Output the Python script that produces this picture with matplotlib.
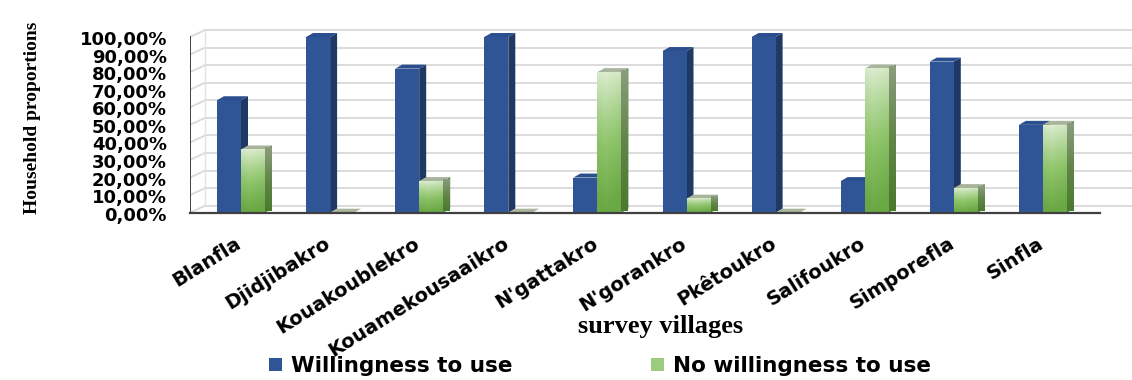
import numpy as np
import matplotlib
matplotlib.use("Agg")
import matplotlib.pyplot as plt
from matplotlib.patches import Polygon, Patch
from matplotlib.colors import LinearSegmentedColormap

villages = ["Blanfla", "Djidjibakro", "Kouakoublekro", "Kouamekousaaikro",
            "N'gattakro", "N'gorankro", "Pkêtoukro", "Salifoukro",
            "Simporefla", "Sinfla"]
willing = [64, 100, 82, 100, 20, 92, 100, 18, 86, 50]
not_willing = [36, 0, 18, 0, 80, 8, 0, 82, 14, 50]
ytick_vals = list(range(0, 101, 10))
ytick_labels = ["%d,00%%" % v for v in ytick_vals]

W, H = 1132, 380
fig = plt.figure(figsize=(W / 100, H / 100), dpi=100)

# axes box in pixels, and the pixel size of one unit along each axis
ax_l, ax_r, ax_t, ax_b = 190, 1132, 22, 212.7
px_x, px_y = 89.1, 1.757
ax = fig.add_axes([ax_l / W, (H - ax_b) / H, (ax_r - ax_l) / W, (ax_b - ax_t) / H])
xmin = (ax_l - 241) / px_x
xmax = xmin + (ax_r - ax_l) / px_x
ymax = (ax_b - ax_t) / px_y
ax.axis("off")

# depth of the bars and of the walls (pixels -> data)
bdx, bdy = 7 / px_x, 4 / px_y
wdx, wdy = 15 / px_x, 7 / px_y
bw = 24 / px_x

# walls: gridlines on the back, slanted lines on the left wall
floor_end = 9 + (1100 - 1043) / px_x
for v in ytick_vals:
    ax.plot([xmin + wdx, xmax], [v + wdy, v + wdy], color="#d9d9d9", lw=1.3, zorder=1)
    ax.plot([xmin, xmin + wdx], [v, v + wdy], color="#d9d9d9", lw=1.3, zorder=1)
ax.plot([xmin + wdx, xmin + wdx], [wdy, 100 + wdy], color="#e3e3e3", lw=1, zorder=1)
ax.plot([xmin, floor_end], [0, 0], color="#404040", lw=1.6, zorder=6, clip_on=False)
ax.plot([xmin, xmin], [0, 100], color="#404040", lw=1.4, zorder=6)

green_cmap = LinearSegmentedColormap.from_list("g", ["#f2f8ee", "#c4e0b0", "#8ec46a", "#6aa844"])
side_cmap = LinearSegmentedColormap.from_list("gs", ["#8a9c7c", "#62854a", "#4a7a2c"])


def bar3d(x0, h, front, side, top):
    x1 = x0 + bw
    ax.add_patch(Polygon([(x1, 0), (x1 + bdx, bdy), (x1 + bdx, h + bdy), (x1, h)],
                         closed=True, fc=side, ec="none", zorder=3))
    ax.add_patch(Polygon([(x0, h), (x0 + bdx, h + bdy), (x1 + bdx, h + bdy), (x1, h)],
                         closed=True, fc=top, ec="none", zorder=3))
    if front is not None and h > 0:
        ax.add_patch(Polygon([(x0, 0), (x1, 0), (x1, h), (x0, h)],
                             closed=True, fc=front, ec="none", zorder=4))


for i in range(len(villages)):
    # blue bar
    bar3d(i - bw, willing[i], "#2f5597", "#1f3864", "#2b4f8e")
    # green bar with a shaded front face
    h = not_willing[i]
    x0 = i
    bar3d(x0, h, None, "#587c3e", "#a8b59c")
    if h > 0:
        yy = np.linspace(0, 1, 60)[:, None]
        xx = np.linspace(0, 1, 20)[None, :]
        grad = 0.15 + 0.85 * yy ** 0.8 + 0.12 * np.abs(xx - 0.35)
        ax.imshow(grad, cmap=green_cmap, vmin=0, vmax=1, origin="upper",
                  extent=[x0, x0 + bw, 0, h], aspect="auto", zorder=4,
                  interpolation="bilinear")
        sgrad = np.linspace(0, 1, 60)[:, None] * np.ones((1, 4))
        ax.imshow(sgrad, cmap=side_cmap, origin="upper",
                  extent=[x0 + bw, x0 + bw + bdx, bdy * 0.5, h + bdy * 0.5],
                  aspect="auto", zorder=3.5, interpolation="bilinear")
ax.set_xlim(xmin, xmax)
ax.set_ylim(0, ymax)

# axis texts
tick_font = dict(family="DejaVu Sans", weight="bold")
for v, lab in zip(ytick_vals, ytick_labels):
    fig.text(167 / W, (H - (ax_b - v * px_y + 3)) / H, lab, ha="right", va="center",
             size=13, **tick_font)
for i, name in enumerate(villages):
    ax.text(i - 0.07, -12, name, rotation=32, ha="right", va="top",
            rotation_mode="anchor", size=14, clip_on=False, **tick_font)

fig.text(33 / W, (H - 118) / H, "Household proportions", rotation=90,
         ha="center", va="center", family="Liberation Serif", weight="bold", size=14)
fig.text(661 / W, (H - 327) / H, "survey villages", ha="center", va="center",
         family="Liberation Serif", weight="bold", size=19)

handles = [Patch(fc="#2f5597", ec="none"), Patch(fc="#9ccb7e", ec="none")]
fig.legend(handles, ["Willingness to use", "No willingness to use"],
           loc="center", bbox_to_anchor=(600 / W, (H - 366) / H), ncol=2,
           frameon=False, prop=dict(family="DejaVu Sans", weight="bold", size=15.5),
           handlelength=0.6, handleheight=0.6, handletextpad=0.45,
           columnspacing=6.4)

fig.savefig("out.png", dpi=100)
